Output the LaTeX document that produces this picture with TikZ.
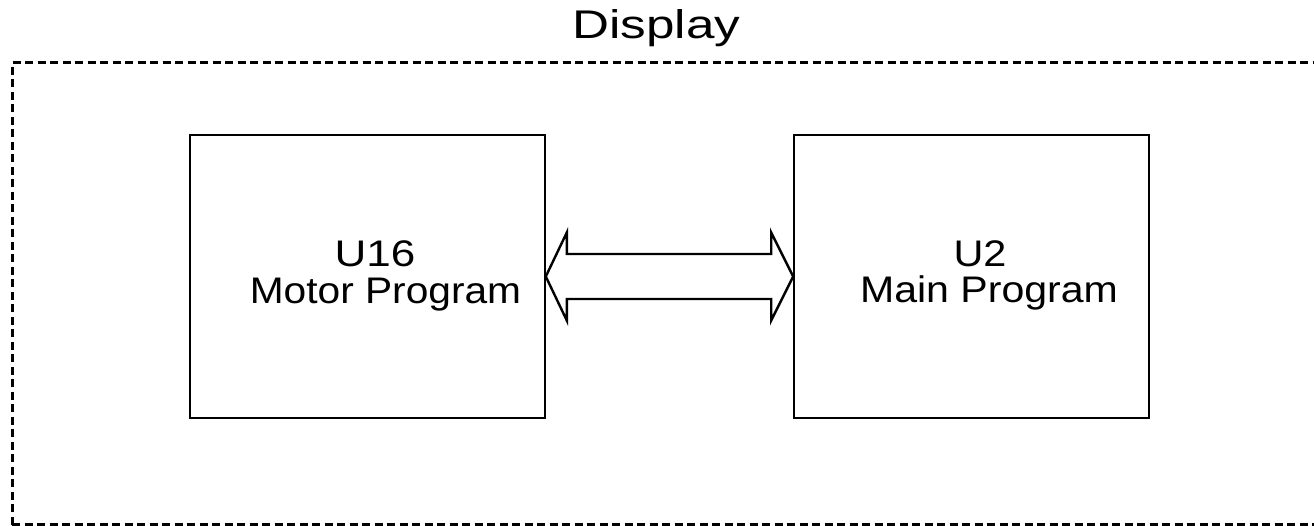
\documentclass[tikz,border=0pt]{standalone}
\usepackage{fontspec}
\usepackage{graphicx}
\setmainfont{Liberation Sans}
\usetikzlibrary{calc}
\begin{document}
\begin{tikzpicture}[x=1pt,y=1pt,
  blk/.style={draw=black,line width=1.6pt,minimum width=355pt,minimum height=283pt,inner sep=0pt},
  lbl/.style={anchor=base,inner sep=0pt,font=\fontsize{37}{37}\selectfont},
  ttl/.style={anchor=base,inner sep=0pt,font=\fontsize{40}{40}\selectfont},
  frame/.style={draw=black,line width=3pt,dash pattern=on 8pt off 4.5pt},
  dblarrow/.style={draw=black,line width=2.4pt,line join=miter}]
\useasboundingbox (0,0) rectangle (1314,526);
\draw[frame] (12,1) -- (12,463) -- (1330,463);
\draw[frame] (12,1) -- (1330,1);
\node[blk] (u16) at (367.5,249.5) {};
\node[blk] (u2) at (971.5,249.5) {};
\node[lbl] (t1) at (375,259) {\scalebox{1.19}[1]{U16}};
\node[lbl] (t2) at (385.5,222) {\scalebox{1.10}[1]{Motor Program}};
\node[lbl] (t3) at (980,259) {\scalebox{1.12}[1]{U2}};
\node[lbl] (t4) at (989,223) {\scalebox{1.11}[1]{Main Program}};
\node[ttl] (title) at (656.5,487) {\scalebox{1.28}[1]{Display}};
\draw[dblarrow] (u16.east) -- ($(u16.east)+(21,44)$) -- ($(u16.east)+(21,22.5)$)
  -- ($(u2.west)+(-22,22.5)$) -- ($(u2.west)+(-22,44)$) -- (u2.west)
  -- ($(u2.west)+(-22,-44)$) -- ($(u2.west)+(-22,-22.5)$)
  -- ($(u16.east)+(21,-22.5)$) -- ($(u16.east)+(21,-44)$) -- cycle;
\end{tikzpicture}
\end{document}
